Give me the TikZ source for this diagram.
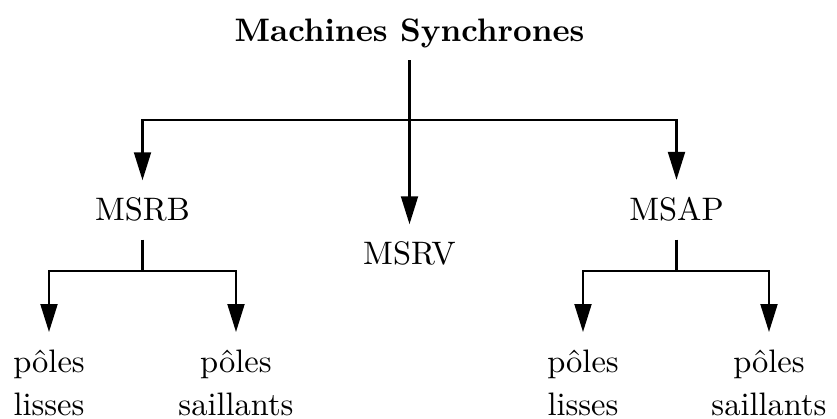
\documentclass[tikz,border=0pt]{standalone}
\usetikzlibrary{arrows.meta}
\begin{document}
\begin{tikzpicture}[x=0.3077pt,y=-0.3077pt,
  lbl/.style={inner xsep=0pt,inner ysep=5.3pt,anchor=base},
  sub/.style={inner xsep=0pt,inner ysep=5.3pt,anchor=north,align=center},
  conn/.style={line width=0.7pt},
  arr/.style={conn,-{Triangle[length=8.6pt,width=5.2pt]}}]
\useasboundingbox (0,0) rectangle (837,419);
\node[inner xsep=0pt,inner ysep=3.4pt,anchor=base,font=\bfseries] (title) at (409.5,42) {Machines Synchrones};
\node[lbl] (msrb) at (142.5,221) {MSRB};
\node[lbl] (msrv) at (409.5,265) {MSRV};
\node[lbl] (msap) at (676.5,221) {MSAP};
\node[sub] (pl1) at (49,332) {pôles\\[1.2pt]lisses};
\node[sub] (ps1) at (236,332) {pôles\\[1.2pt]saillants};
\node[sub] (pl2) at (583,332) {pôles\\[1.2pt]lisses};
\node[sub] (ps2) at (769,332) {pôles\\[1.2pt]saillants};
\coordinate (hub) at (409.5,120);
\coordinate (hb1) at (142.5,271);
\coordinate (hb2) at (676.5,271);
\draw[arr] (title.south) -- (msrv.north);
\draw[arr] (hub) -| (msrb.north);
\draw[arr] (hub) -| (msap.north);
\draw[conn] (msrb.south) -- (hb1);
\draw[arr] (hb1) -| (pl1.north);
\draw[arr] (hb1) -| (ps1.north);
\draw[conn] (msap.south) -- (hb2);
\draw[arr] (hb2) -| (pl2.north);
\draw[arr] (hb2) -| (ps2.north);
\end{tikzpicture}
\end{document}
